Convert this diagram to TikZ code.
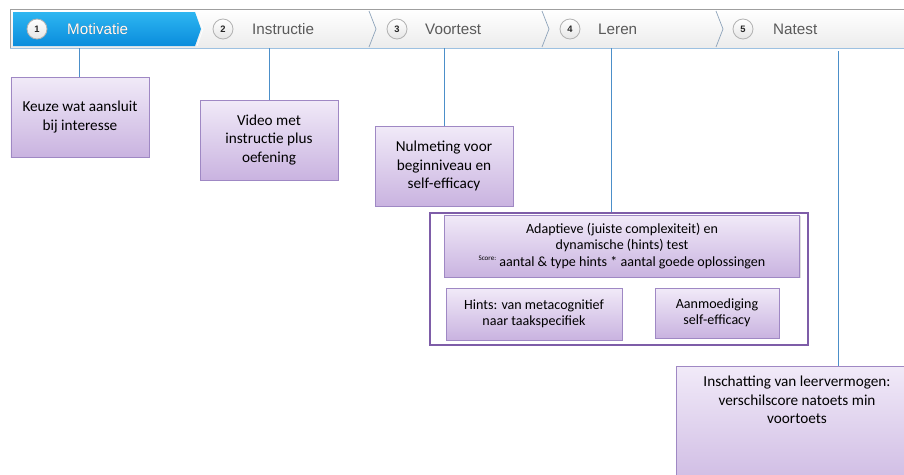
\documentclass[tikz,border=0pt]{standalone}
\usepackage{fontspec}
\setmainfont{Carlito}
\newfontfamily\barfont{Liberation Sans}
\usetikzlibrary{positioning, shadows}
\definecolor{boxtop}{HTML}{F1EAF8}
\definecolor{boxbot}{HTML}{C9B3E0}
\definecolor{boxline}{HTML}{9F88C4}
\definecolor{framecol}{HTML}{7E5DA8}
\definecolor{stepblue}{HTML}{2EB6F1}
\definecolor{stepblue2}{HTML}{0A8CDC}
\definecolor{connblue}{HTML}{4C8FC9}
\definecolor{sepcol}{HTML}{8DA3BA}
\definecolor{labgray}{HTML}{5A5A5A}

\begin{document}
\begin{tikzpicture}[
    x=0.03cm, y=-0.03cm,
    font=\fontsize{13}{16}\selectfont,
    % Styles
    box/.style={
        draw=boxline,
        top color=boxtop,
        bottom color=boxbot,
        align=center,
        inner sep=2pt,
        drop shadow={shadow xshift=1.2pt, shadow yshift=-1.2pt, opacity=0.25}
    },
    smallbox/.style={
        box,
        font=\fontsize{12}{14}\selectfont
    },
    frame/.style={
        draw=framecol,
        line width=2pt,
        fill=white
    },
    barbox/.style={
        draw=gray!75,
        top color=white,
        bottom color=gray!15,
        minimum width=28cm,
        minimum height=1.17cm
    },
    stepnum/.style={
        circle,
        draw=gray!60,
        line width=0.7pt,
        top color=white,
        bottom color=gray!20,
        minimum size=0.6cm,
        inner sep=0pt,
        font=\barfont\fontsize{8}{9}\selectfont\bfseries,
        text=gray!30!black
    },
    steplab/.style={anchor=west, inner sep=0pt, font=\barfont\fontsize{13}{15}\selectfont, text=labgray},
    sep/.style={draw=sepcol, line width=0.6pt},
    conn/.style={draw=connblue, line width=0.7pt}
]
    \useasboundingbox (0,0) rectangle (904,474);
    \clip (0,0) rectangle (904,474);

    % --- STEP BAR ---
    \node[barbox, anchor=north west] (bar) at (10,9) {};
    \draw[connblue!55, line width=1.2pt] (bar.south west) -- (bar.south east);
    \path[top color=stepblue, bottom color=stepblue2]
        (13,12) -- (195,12) -- (201,29) -- (195,46) -- (13,46) -- cycle;
    \draw[white, line width=0.6pt] (197,12) -- (203,29) -- (197,46);
    \foreach \sx in {369, 542, 716} {
        \draw[sep] (\sx,11) -- (\sx+7,29) -- (\sx,47);
    }

    % Step numbers and labels
    \foreach \i/\nx/\lx/\lab in {1/37/67/Motivatie, 2/223/252/Instructie,
                                 3/397/425/Voortest, 4/570/598/Leren, 5/743/773/Natest} {
        \node[stepnum] (n\i) at (\nx,29) {\i};
        \node[steplab] (l\i) at (\lx,29) {\lab};
    }
    \node[steplab, text=white] at (l1.west) {Motivatie};

    % --- PHASE BOXES ---
    \node[box, minimum width=4.14cm, minimum height=2.4cm] (keuze) at (80,117)
        {Keuze wat aansluit\\bij interesse};
    \node[box, minimum width=4.14cm, minimum height=2.4cm] (video) at (269,140)
        {Video met\\instructie plus\\oefening};
    \node[box, minimum width=4.14cm, minimum height=2.4cm] (nul) at (444,166)
        {Nulmeting voor\\beginniveau en\\self-efficacy};

    % Leren group
    \node[frame, minimum width=11.34cm, minimum height=3.96cm] (leren) at (619,279) {};
    \node[smallbox, minimum width=10.65cm, minimum height=1.86cm] (adapt) at (622,246)
        {Adaptieve (juiste complexiteit) en\\dynamische (hints) test\\
         \raisebox{0.9ex}{\fontsize{6}{7}\selectfont Score:} aantal \& type hints * aantal goede oplossingen};
    \node[smallbox, minimum width=5.28cm, minimum height=1.56cm] (hints) at (534,314)
        {Hints: van metacognitief\\naar taakspecifiek};
    \node[smallbox, minimum width=3.72cm, minimum height=1.5cm] (aanm) at (717,313)
        {Aanmoediging\\self-efficacy};

    % Natest box (runs off the page)
    \node[box, anchor=north, minimum width=7.26cm, minimum height=4.2cm] (res) at (797,366) {};
    \node[below=0.17cm of res.north, align=center] (restext)
        {Inschatting van leervermogen:\\verschilscore natoets min\\voortoets};

    % --- CONNECTORS ---
    \coordinate (c1) at (79,48);
    \coordinate (c2) at (269,48);
    \coordinate (c3) at (444,48);
    \coordinate (c4) at (611,48);
    \coordinate (c5) at (838,51);
    \draw[conn] (c1) -- (c1 |- keuze.north);
    \draw[conn] (c2) -- (c2 |- video.north);
    \draw[conn] (c3) -- (c3 |- nul.north);
    \draw[conn] (c4) -- (c4 |- leren.north);
    \draw[conn] (c5) -- (c5 |- res.north);

\end{tikzpicture}
\end{document}
